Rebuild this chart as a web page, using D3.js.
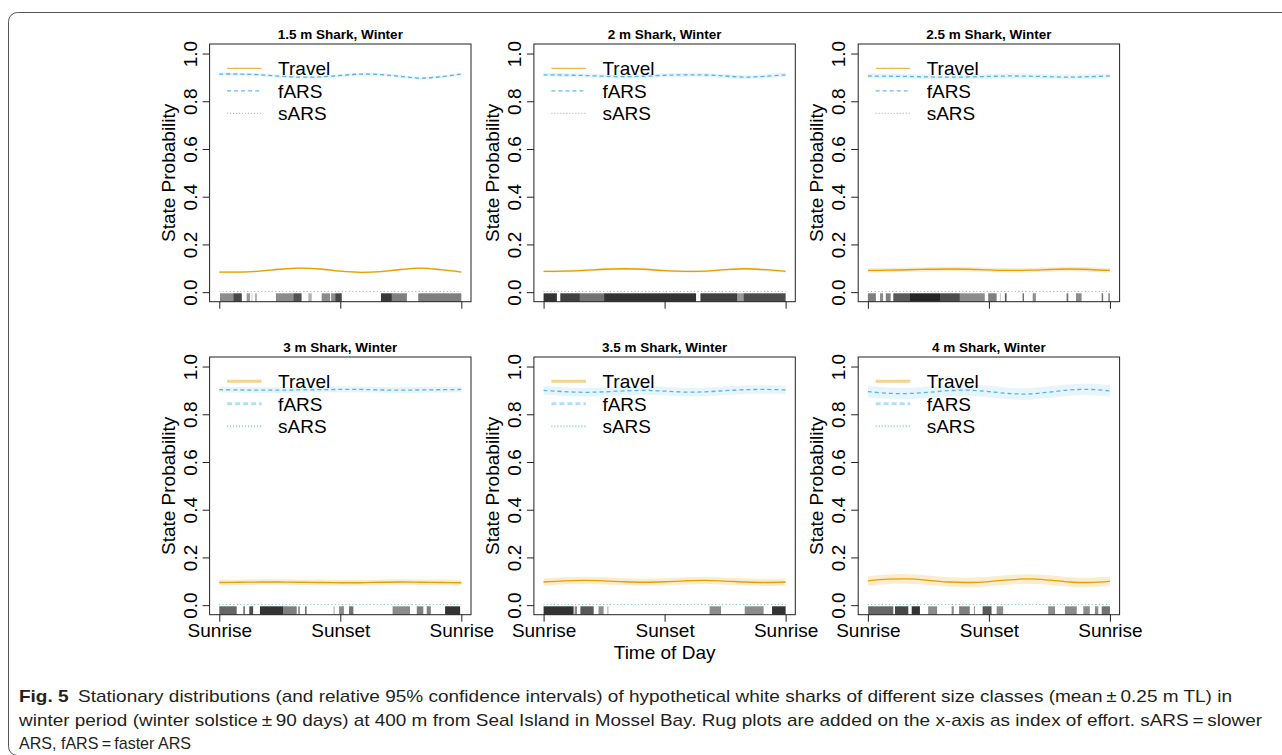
<!DOCTYPE html>
<html>
<head>
<meta charset="utf-8">
<script src="https://cdn.jsdelivr.net/npm/d3@7"></script>
<style>
  body { margin: 0; background: #fff; }
  svg text { font-family: "Liberation Sans", Arial, Helvetica, sans-serif; fill: #000; }
</style>
</head>
<body>
<div id="chart"></div>
<script>
// time axis runs from sunrise (0) through sunset (0.5) to the next sunrise (1)
const timeOfDay = [0, 0.083, 0.167, 0.25, 0.333, 0.417, 0.5, 0.583, 0.667, 0.75, 0.833, 0.917, 1];
const timeTicks = [0, 0.5, 1];
const timeLabels = ["Sunrise", "Sunset", "Sunrise"];
const probTicks = [0, 0.2, 0.4, 0.6, 0.8, 1];

const panelTitles = [
  "1.5 m Shark, Winter", "2 m Shark, Winter", "2.5 m Shark, Winter",
  "3 m Shark, Winter", "3.5 m Shark, Winter", "4 m Shark, Winter"
];

const travelMean = [
  [0.084, 0.084, 0.088, 0.096, 0.101, 0.097, 0.088, 0.083, 0.086, 0.095, 0.101, 0.094, 0.084],
  [0.087, 0.088, 0.091, 0.096, 0.098, 0.096, 0.090, 0.087, 0.088, 0.094, 0.098, 0.094, 0.087],
  [0.091, 0.092, 0.094, 0.096, 0.097, 0.096, 0.093, 0.091, 0.092, 0.095, 0.097, 0.095, 0.091],
  [0.095, 0.096, 0.097, 0.097, 0.096, 0.095, 0.094, 0.094, 0.096, 0.097, 0.096, 0.095, 0.094],
  [0.097, 0.102, 0.104, 0.102, 0.098, 0.096, 0.098, 0.102, 0.104, 0.101, 0.097, 0.095, 0.097],
  [0.102, 0.109, 0.110, 0.104, 0.097, 0.095, 0.099, 0.106, 0.110, 0.105, 0.097, 0.095, 0.100]
];
const farsMean = [
  [0.914, 0.914, 0.911, 0.905, 0.901, 0.902, 0.908, 0.914, 0.912, 0.904, 0.897, 0.903, 0.914],
  [0.911, 0.910, 0.908, 0.905, 0.903, 0.905, 0.909, 0.911, 0.910, 0.906, 0.901, 0.905, 0.911],
  [0.906, 0.905, 0.904, 0.902, 0.901, 0.902, 0.904, 0.906, 0.905, 0.903, 0.901, 0.903, 0.906],
  [0.903, 0.902, 0.901, 0.901, 0.902, 0.903, 0.904, 0.904, 0.902, 0.901, 0.902, 0.903, 0.904],
  [0.900, 0.895, 0.892, 0.894, 0.898, 0.900, 0.897, 0.893, 0.894, 0.899, 0.903, 0.904, 0.902],
  [0.895, 0.888, 0.887, 0.892, 0.899, 0.901, 0.895, 0.887, 0.885, 0.893, 0.902, 0.904, 0.898]
];
const sarsMean = [0.003, 0.003, 0.003, 0.003, 0.003, 0.003, 0.003, 0.003, 0.003, 0.003, 0.003, 0.003, 0.003];

// half width of the 95% band, one per panel
const travelHalfCI = [0.004, 0.005, 0.009, 0.012, 0.015, 0.02];
const farsHalfCI = [0.006, 0.008, 0.010, 0.012, 0.018, 0.024];

// rug of effort: [from, to, darkness]
const rugSegments = [
  [[0.003, 0.058, 0.45], [0.058, 0.093, 0.72], [0.113, 0.127, 0.4], [0.133, 0.137, 0.22], [0.148, 0.155, 0.35],
   [0.234, 0.306, 0.45], [0.306, 0.340, 0.68], [0.368, 0.382, 0.3], [0.423, 0.458, 0.45], [0.462, 0.479, 0.45],
   [0.479, 0.506, 0.72], [0.668, 0.713, 0.78], [0.713, 0.775, 0.5], [0.822, 1.0, 0.5]],
  [[0, 0.055, 0.8], [0.069, 0.15, 0.75], [0.15, 0.25, 0.55], [0.25, 0.63, 0.8], [0.648, 0.80, 0.75],
   [0.80, 0.826, 0.4], [0.826, 1.0, 0.7]],
  [[0, 0.033, 0.5], [0.05, 0.063, 0.45], [0.074, 0.094, 0.5], [0.105, 0.174, 0.65], [0.174, 0.298, 0.85],
   [0.298, 0.38, 0.7], [0.38, 0.483, 0.45], [0.497, 0.532, 0.5], [0.545, 0.55, 0.2], [0.566, 0.573, 0.65],
   [0.639, 0.645, 0.55], [0.681, 0.694, 0.45], [0.821, 0.828, 0.55], [0.86, 0.883, 0.45], [0.966, 0.972, 0.55],
   [0.993, 1.0, 0.45]],
  [[0, 0.072, 0.6], [0.099, 0.106, 0.55], [0.124, 0.14, 0.7], [0.168, 0.264, 0.8], [0.264, 0.32, 0.5],
   [0.326, 0.333, 0.45], [0.354, 0.361, 0.55], [0.471, 0.478, 0.2], [0.495, 0.515, 0.45], [0.536, 0.554, 0.55],
   [0.716, 0.788, 0.45], [0.816, 0.843, 0.5], [0.857, 0.874, 0.5], [0.933, 0.995, 0.8]],
  [[0, 0.124, 0.8], [0.128, 0.138, 0.45], [0.152, 0.207, 0.65], [0.227, 0.248, 0.45], [0.262, 0.269, 0.2],
   [0.686, 0.733, 0.45], [0.831, 0.909, 0.45], [0.944, 1.0, 0.8]],
  [[0.001, 0.105, 0.6], [0.112, 0.167, 0.72], [0.181, 0.215, 0.8], [0.249, 0.286, 0.45], [0.346, 0.355, 0.45],
   [0.377, 0.421, 0.5], [0.438, 0.442, 0.45], [0.474, 0.511, 0.65], [0.532, 0.559, 0.45], [0.745, 0.773, 0.45],
   [0.814, 0.863, 0.45], [0.890, 0.917, 0.45], [0.938, 0.952, 0.45], [0.966, 1.0, 0.55]]
];

const legendNames = ["Travel", "fARS", "sARS"];

const captionLines = [
  "Stationary distributions (and relative 95% confidence intervals) of hypothetical white sharks of different size classes (mean\u2009\u00b1\u20090.25 m TL) in",
  "winter period (winter solstice\u2009\u00b1\u200990 days) at 400 m from Seal Island in Mossel Bay. Rug plots are added on the x-axis as index of effort. sARS\u2009=\u2009slower",
  "ARS, fARS\u2009=\u2009faster ARS"
];

const width = 1282;
const height = 755;
const plotW = 261.4;
const plotH = 257.7;
const colStep = 324.3;
const rowStep = 313;

const colors = { travel: "#E69F00", fars: "#56B4E9", sars: "#009E73" };

const svg = d3.select("#chart").append("svg")
  .attr("width", width)
  .attr("height", height);

// figure frame with rounded corners, running past the right and bottom edges
svg.append("rect")
  .attr("x", 8.5).attr("y", 12.5)
  .attr("width", 1300).attr("height", 743)
  .attr("rx", 9)
  .attr("fill", "none")
  .attr("stroke", "#555")
  .attr("stroke-width", 1);

const x = d3.scaleLinear().domain([-0.04, 1.04]).range([0, plotW]);
const y = d3.scaleLinear().domain([-0.04, 1.04]).range([plotH, 0]);

const line = d3.line().curve(d3.curveCatmullRom).x((d) => x(d[0])).y((d) => y(d[1]));
const area = d3.area().curve(d3.curveCatmullRom)
  .x((d) => x(d[0])).y0((d) => y(d[1])).y1((d) => y(d[2]));

panelTitles.forEach((title, i) => {
  const col = i % 3;
  const row = Math.floor(i / 3);
  const g = svg.append("g")
    .attr("transform", `translate(${209.6 + col * colStep},${44 + row * rowStep})`);

  const trav = timeOfDay.map((t, k) => [t, travelMean[i][k]]);
  const fars = timeOfDay.map((t, k) => [t, farsMean[i][k]]);
  const sars = timeOfDay.map((t, k) => [t, sarsMean[k]]);

  // confidence bands
  g.append("path")
    .attr("d", area(trav.map((d) => [d[0], d[1] - travelHalfCI[i], d[1] + travelHalfCI[i]])))
    .attr("fill", colors.travel).attr("fill-opacity", 0.2);
  g.append("path")
    .attr("d", area(fars.map((d) => [d[0], d[1] - farsHalfCI[i], d[1] + farsHalfCI[i]])))
    .attr("fill", colors.fars).attr("fill-opacity", 0.15);

  // rug
  g.append("g").selectAll("rect")
    .data(rugSegments[i])
    .join("rect")
    .attr("x", (d) => x(d[0]))
    .attr("width", (d) => Math.max(1, x(d[1]) - x(d[0])))
    .attr("y", plotH - 8.4)
    .attr("height", 8.4)
    .attr("fill", "#000")
    .attr("fill-opacity", (d) => d[2]);

  // mean lines
  g.append("path").attr("d", line(trav))
    .attr("fill", "none").attr("stroke", colors.travel).attr("stroke-width", 1.3);
  g.append("path").attr("d", line(fars))
    .attr("fill", "none").attr("stroke", colors.fars).attr("stroke-width", 1.3)
    .attr("stroke-dasharray", "4,3");
  g.append("path").attr("d", line(sars))
    .attr("fill", "none").attr("stroke", colors.sars).attr("stroke-width", 1)
    .attr("stroke-opacity", 0.6).attr("stroke-dasharray", "1,2.5");

  // box
  g.append("rect")
    .attr("width", plotW).attr("height", plotH)
    .attr("fill", "none").attr("stroke", "#222").attr("stroke-width", 1);

  // y axis
  const yAxis = g.append("g")
    .call(d3.axisLeft(y).tickValues(probTicks).tickSize(7).tickFormat(d3.format(".1f")));
  yAxis.select(".domain").remove();
  yAxis.selectAll("line").attr("stroke", "#222");
  yAxis.selectAll("text")
    .attr("transform", "rotate(-90)")
    .attr("x", 0).attr("y", -13).attr("dy", 0)
    .attr("text-anchor", "middle")
    .style("font-size", "19px");

  // x axis
  const xAxis = g.append("g")
    .attr("transform", `translate(0,${plotH})`)
    .call(d3.axisBottom(x).tickValues(timeTicks).tickSize(7)
      .tickFormat((d, k) => (row === 1 ? timeLabels[k] : "")));
  xAxis.select(".domain").remove();
  xAxis.selectAll("line").attr("stroke", "#222");
  xAxis.selectAll("text")
    .attr("y", 22).attr("dy", 0)
    .style("font-size", "19px");
  svg.selectAll(".tick text").attr("font-family", null).attr("font-size", null);

  // title
  g.append("text")
    .attr("x", plotW / 2).attr("y", -5.5)
    .attr("text-anchor", "middle")
    .attr("font-weight", "bold")
    .style("font-size", "13.5px")
    .text(title);

  // y label
  g.append("text")
    .attr("transform", `translate(-35,${plotH / 2}) rotate(-90)`)
    .attr("text-anchor", "middle")
    .style("font-size", "19px")
    .text("State Probability");

  // legend
  const legend = g.append("g").attr("transform", "translate(17.5,24.3)");
  const styles = row === 0
    ? [
        { c: colors.travel, w: 1, dash: null, o: 0.9 },
        { c: colors.fars, w: 1.3, dash: "4,3", o: 0.9 },
        { c: "#5a8f80", w: 1, dash: "1,2", o: 0.7 }
      ]
    : [
        { c: colors.travel, w: 3, dash: null, o: 0.45 },
        { c: colors.fars, w: 3, dash: "5,3", o: 0.45 },
        { c: colors.sars, w: 2, dash: "1,2", o: 0.45 }
      ];
  legendNames.forEach((name, k) => {
    legend.append("line")
      .attr("x1", 0).attr("x2", 34.5)
      .attr("y1", k * 22.5).attr("y2", k * 22.5)
      .attr("stroke", styles[k].c)
      .attr("stroke-width", styles[k].w)
      .attr("stroke-opacity", styles[k].o)
      .attr("stroke-dasharray", styles[k].dash);
    legend.append("text")
      .attr("x", 51).attr("y", k * 22.5)
      .attr("dy", "0.36em")
      .style("font-size", "19px")
      .text(name);
  });
});

// shared x label
svg.append("text")
  .attr("x", 209.6 + colStep + plotW / 2).attr("y", 658.5)
  .attr("text-anchor", "middle")
  .style("font-size", "19px")
  .text("Time of Day");

// caption
const cap = svg.append("g")
  .style("font-family", "'Liberation Sans Narrow','DejaVu Sans Condensed','Liberation Sans',sans-serif");
const capWidths = [1213, 1243, 172];
captionLines.forEach((txt, k) => {
  const t = cap.append("text")
    .attr("x", 19).attr("y", 702 + k * 23.5)
    .attr("textLength", capWidths[k])
    .attr("lengthAdjust", "spacingAndGlyphs")
    .style("font-size", "17px")
    .style("fill", "#231f20");
  if (k === 0) {
    t.append("tspan").attr("font-weight", "bold").text("Fig. 5");
    t.append("tspan").text("\u2002" + txt);
  } else {
    t.text(txt);
  }
});
</script>
</body>
</html>
